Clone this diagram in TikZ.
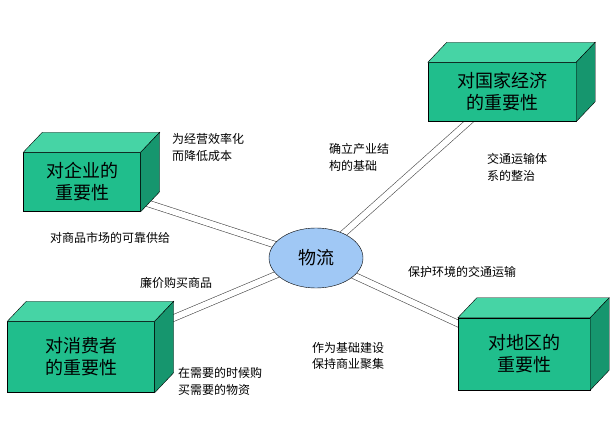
\documentclass[tikz,border=0pt]{standalone}
\usepackage{fontspec}
\setmainfont{Noto Sans CJK SC}
\usetikzlibrary{backgrounds,calc,shapes.geometric}
\definecolor{boxfront}{RGB}{32,190,140}
\definecolor{boxtop}{RGB}{70,212,165}
\definecolor{boxside}{RGB}{22,150,110}
\definecolor{flowblue}{RGB}{160,200,245}
\tikzset{
  cubebox/.style={shape=rectangle, draw, fill=boxfront, align=center, inner sep=0pt, font=\fontsize{18}{22}\selectfont},
  note/.style={anchor=west, align=left, inner sep=0pt, font=\fontsize{12}{17}\selectfont},
  link/.style={draw=black!70, double=white, double distance=6pt, line width=0.6pt}
}
% top and right faces of a box
\newcommand{\cubeface}[1]{%
  \draw[fill=boxtop] (#1.north west) -- ++(19,-20) -- ($(#1.north east)+(19,-20)$) -- (#1.north east) -- cycle;
  \draw[fill=boxside] (#1.north east) -- ++(19,-20) -- ($(#1.south east)+(19,-20)$) -- (#1.south east) -- cycle;
}
\begin{document}
\begin{tikzpicture}[x=1pt, y=-1pt]
  \useasboundingbox (0,0) rectangle (616,430);

  \node (wl)[shape=ellipse, draw, fill=flowblue, minimum width=94, minimum height=60, font=\fontsize{18}{22}\selectfont] at (316,258) {物流};

  \node (qy)[cubebox, minimum width=117, minimum height=59] at (82,182) {对企业的\\重要性};
  \node (gj)[cubebox, minimum width=148, minimum height=59] at (502,92) {对国家经济\\的重要性};
  \node (xf)[cubebox, minimum width=147, minimum height=71] at (81,357) {对消费者\\的重要性};
  \node (dq)[cubebox, minimum width=132, minimum height=72] at (524,354) {对地区的\\重要性};

  \cubeface{qy}
  \cubeface{gj}
  \cubeface{xf}
  \cubeface{dq}

  \begin{pgfonlayer}{background}
    \path[link] (qy.center) -- (wl.center);
    \path[link] (gj.center) -- (wl.center);
    \path[link] (xf.center) -- (wl.center);
    \path[link] (dq.center) -- (wl.center);
  \end{pgfonlayer}

  \node (n1)[note] at (172,147) {为经营效率化\\而降低成本};
  \node (n2)[note] at (329,157) {确立产业结\\构的基础};
  \node (n3)[note] at (487,167) {交通运输体\\系的整治};
  \node (n4)[note] at (50,238) {对商品市场的可靠供给};
  \node (n5)[note] at (140,283) {廉价购买商品};
  \node (n6)[note] at (408,272) {保护环境的交通运输};
  \node (n7)[note] at (312,356) {作为基础建设\\保持商业聚集};
  \node (n8)[note] at (178,381) {在需要的时候购\\买需要的物资};
\end{tikzpicture}
\end{document}
